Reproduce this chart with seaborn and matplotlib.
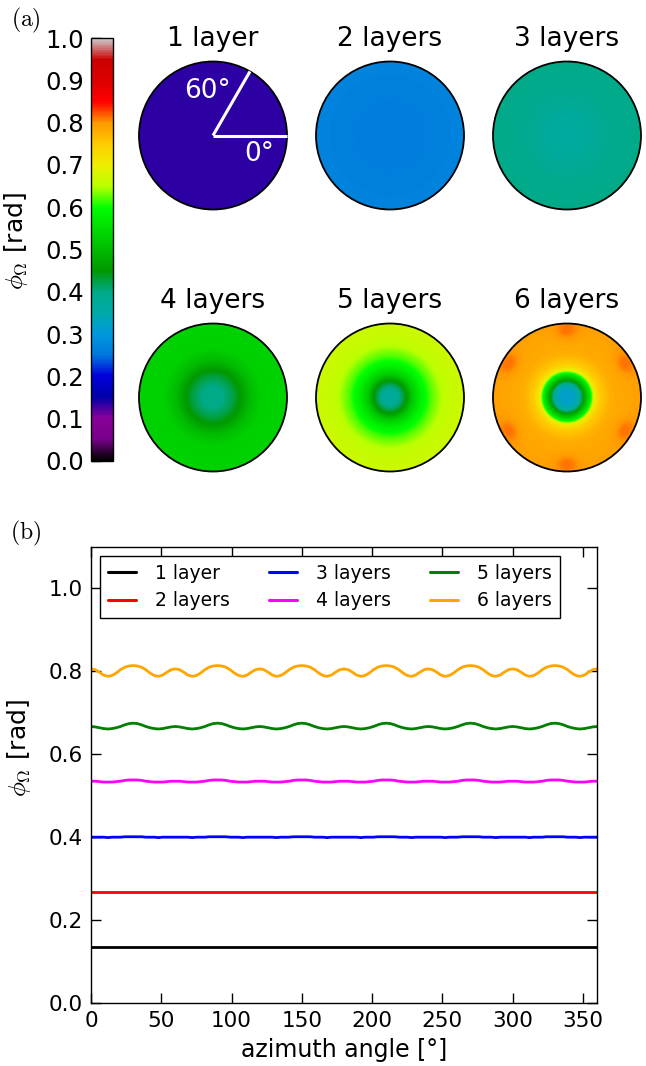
import numpy as np
import pandas as pd
import matplotlib
matplotlib.use("Agg")
import matplotlib.pyplot as plt
import seaborn as sns
from matplotlib.patches import Circle
from matplotlib.cm import ScalarMappable
from matplotlib.colors import Normalize

# ---------------------------------------------------------------- data
layer_names = ["1 layer", "2 layers", "3 layers", "4 layers", "5 layers", "6 layers"]
line_colors = ["black", "red", "blue", "magenta", "green", "orange"]

# azimuthal profiles of the accumulated phase (rad) on the disc rim
angle_flat = [0, 30, 60, 90, 120, 150, 180, 210, 240, 270, 300, 330, 360]
phi_1 = [0.135, 0.135, 0.135, 0.135, 0.135, 0.135, 0.135, 0.135, 0.135, 0.135, 0.135, 0.135, 0.135]
phi_2 = [0.267, 0.267, 0.267, 0.267, 0.267, 0.267, 0.267, 0.267, 0.267, 0.267, 0.267, 0.267, 0.267]

angle_fine = list(range(0, 361, 3))
phi_3 = [
    0.400, 0.400, 0.400, 0.400, 0.399, 0.400, 0.400, 0.400, 0.401, 0.401, 0.401, 0.401, 0.401, 0.400, 0.400, 0.400, 0.399, 0.400, 0.400, 0.400,
    0.400, 0.400, 0.400, 0.400, 0.399, 0.400, 0.400, 0.400, 0.401, 0.401, 0.401, 0.401, 0.401, 0.400, 0.400, 0.400, 0.399, 0.400, 0.400, 0.400,
    0.400, 0.400, 0.400, 0.400, 0.399, 0.400, 0.400, 0.400, 0.401, 0.401, 0.401, 0.401, 0.401, 0.400, 0.400, 0.400, 0.399, 0.400, 0.400, 0.400,
    0.400, 0.400, 0.400, 0.400, 0.399, 0.400, 0.400, 0.400, 0.401, 0.401, 0.401, 0.401, 0.401, 0.400, 0.400, 0.400, 0.399, 0.400, 0.400, 0.400,
    0.400, 0.400, 0.400, 0.400, 0.399, 0.400, 0.400, 0.400, 0.401, 0.401, 0.401, 0.401, 0.401, 0.400, 0.400, 0.400, 0.399, 0.400, 0.400, 0.400,
    0.400, 0.400, 0.400, 0.400, 0.399, 0.400, 0.400, 0.400, 0.401, 0.401, 0.401, 0.401, 0.401, 0.400, 0.400, 0.400, 0.399, 0.400, 0.400, 0.400,
    0.400,
]
phi_4 = [
    0.535, 0.535, 0.534, 0.533, 0.533, 0.533, 0.534, 0.535, 0.537, 0.538, 0.538, 0.538, 0.537, 0.535, 0.534, 0.533, 0.533, 0.533, 0.534, 0.535,
    0.535, 0.535, 0.534, 0.533, 0.533, 0.533, 0.534, 0.535, 0.537, 0.538, 0.538, 0.538, 0.537, 0.535, 0.534, 0.533, 0.533, 0.533, 0.534, 0.535,
    0.535, 0.535, 0.534, 0.533, 0.533, 0.533, 0.534, 0.535, 0.537, 0.538, 0.538, 0.538, 0.537, 0.535, 0.534, 0.533, 0.533, 0.533, 0.534, 0.535,
    0.535, 0.535, 0.534, 0.533, 0.533, 0.533, 0.534, 0.535, 0.537, 0.538, 0.538, 0.538, 0.537, 0.535, 0.534, 0.533, 0.533, 0.533, 0.534, 0.535,
    0.535, 0.535, 0.534, 0.533, 0.533, 0.533, 0.534, 0.535, 0.537, 0.538, 0.538, 0.538, 0.537, 0.535, 0.534, 0.533, 0.533, 0.533, 0.534, 0.535,
    0.535, 0.535, 0.534, 0.533, 0.533, 0.533, 0.534, 0.535, 0.537, 0.538, 0.538, 0.538, 0.537, 0.535, 0.534, 0.533, 0.533, 0.533, 0.534, 0.535,
    0.535,
]
phi_5 = [
    0.667, 0.666, 0.664, 0.662, 0.661, 0.662, 0.664, 0.667, 0.671, 0.674, 0.675, 0.674, 0.671, 0.667, 0.664, 0.662, 0.661, 0.662, 0.664, 0.666,
    0.667, 0.666, 0.664, 0.662, 0.661, 0.662, 0.664, 0.667, 0.671, 0.674, 0.675, 0.674, 0.671, 0.667, 0.664, 0.662, 0.661, 0.662, 0.664, 0.666,
    0.667, 0.666, 0.664, 0.662, 0.661, 0.662, 0.664, 0.667, 0.671, 0.674, 0.675, 0.674, 0.671, 0.667, 0.664, 0.662, 0.661, 0.662, 0.664, 0.666,
    0.667, 0.666, 0.664, 0.662, 0.661, 0.662, 0.664, 0.667, 0.671, 0.674, 0.675, 0.674, 0.671, 0.667, 0.664, 0.662, 0.661, 0.662, 0.664, 0.666,
    0.667, 0.666, 0.664, 0.662, 0.661, 0.662, 0.664, 0.667, 0.671, 0.674, 0.675, 0.674, 0.671, 0.667, 0.664, 0.662, 0.661, 0.662, 0.664, 0.666,
    0.667, 0.666, 0.664, 0.662, 0.661, 0.662, 0.664, 0.667, 0.671, 0.674, 0.675, 0.674, 0.671, 0.667, 0.664, 0.662, 0.661, 0.662, 0.664, 0.666,
    0.667,
]
phi_6 = [
    0.806, 0.804, 0.798, 0.791, 0.788, 0.790, 0.796, 0.804, 0.810, 0.813, 0.814, 0.813, 0.810, 0.804, 0.796, 0.790, 0.788, 0.791, 0.798, 0.804,
    0.806, 0.804, 0.798, 0.791, 0.788, 0.790, 0.796, 0.804, 0.810, 0.813, 0.814, 0.813, 0.810, 0.804, 0.796, 0.790, 0.788, 0.791, 0.798, 0.804,
    0.806, 0.804, 0.798, 0.791, 0.788, 0.790, 0.796, 0.804, 0.810, 0.813, 0.814, 0.813, 0.810, 0.804, 0.796, 0.790, 0.788, 0.791, 0.798, 0.804,
    0.806, 0.804, 0.798, 0.791, 0.788, 0.790, 0.796, 0.804, 0.810, 0.813, 0.814, 0.813, 0.810, 0.804, 0.796, 0.790, 0.788, 0.791, 0.798, 0.804,
    0.806, 0.804, 0.798, 0.791, 0.788, 0.790, 0.796, 0.804, 0.810, 0.813, 0.814, 0.813, 0.810, 0.804, 0.796, 0.790, 0.788, 0.791, 0.798, 0.804,
    0.806, 0.804, 0.798, 0.791, 0.788, 0.790, 0.796, 0.804, 0.810, 0.813, 0.814, 0.813, 0.810, 0.804, 0.796, 0.790, 0.788, 0.791, 0.798, 0.804,
    0.806,
]

# radial phase profiles across each disc (radius as fraction of disc radius)
radius_1 = [0.0, 1.0]
profile_1 = [0.135, 0.135]
radius_2 = [0.0, 0.3, 0.6, 1.0]
profile_2 = [0.258, 0.259, 0.264, 0.267]
radius_3 = [0.0, 0.3, 0.6, 1.0]
profile_3 = [0.365, 0.372, 0.390, 0.400]
radius_4 = [0.0, 0.15, 0.27, 0.38, 0.50, 0.65, 1.0]
profile_4 = [0.400, 0.402, 0.425, 0.455, 0.500, 0.528, 0.535]
radius_5 = [0.0, 0.08, 0.15, 0.22, 0.30, 0.42, 0.55, 0.70, 0.85, 1.0]
profile_5 = [0.370, 0.375, 0.410, 0.450, 0.520, 0.580, 0.620, 0.650, 0.662, 0.665]
radius_6 = [0.0, 0.10, 0.17, 0.22, 0.28, 0.33, 0.37, 0.45, 0.60, 1.0]
profile_6 = [0.320, 0.325, 0.370, 0.450, 0.530, 0.600, 0.700, 0.750, 0.780, 0.792]

# darker spots near the rim of the 6-layer disc (peak phase matches the rim maxima)
spot_angles_6 = [30, 90, 150, 210, 270, 330]
spot_radius_6 = 0.90
spot_peak_6 = 0.815

disc_radii = [radius_1, radius_2, radius_3, radius_4, radius_5, radius_6]
disc_profiles = [profile_1, profile_2, profile_3, profile_4, profile_5, profile_6]
cbar_ticks = [0.0, 0.1, 0.2, 0.3, 0.4, 0.5, 0.6, 0.7, 0.8, 0.9, 1.0]
x_ticks = [0, 50, 100, 150, 200, 250, 300, 350]
y_ticks = [0.0, 0.2, 0.4, 0.6, 0.8, 1.0]

# ---------------------------------------------------------------- style
sns.set_style("ticks")
plt.rcParams.update({
    "font.family": ["DejaVu Sans"],
    "mathtext.fontset": "cm",
    "text.color": "black",
    "axes.labelcolor": "black",
    "axes.edgecolor": "black",
    "xtick.color": "black",
    "ytick.color": "black",
    "axes.linewidth": 1.0,
})

W, H = 646, 1066
fig = plt.figure(figsize=(W / 100, H / 100), dpi=100)


def px_axes(x0, y0, x1, y1):
    return fig.add_axes([x0 / W, 1 - y1 / H, (x1 - x0) / W, (y1 - y0) / H])


cmap = plt.get_cmap("nipy_spectral")
norm = Normalize(vmin=0.0, vmax=1.0)

# ---------------------------------------------------------------- (a) discs
fig.text(11 / W, 1 - 20 / H, r"$\mathrm{(a)}$", fontsize=17, ha="left", va="center")

cax = px_axes(91, 38, 113, 461)
cb = fig.colorbar(ScalarMappable(norm=norm, cmap=cmap), cax=cax)
cb.set_ticks(cbar_ticks)
cb.set_ticklabels([f"{t:.1f}" for t in cbar_ticks])
cax.yaxis.set_ticks_position("left")
cax.yaxis.set_label_position("left")
cax.tick_params(axis="y", direction="in", length=7, width=1, labelsize=17.5, pad=5,
                left=True, right=False)
cb.outline.set_edgecolor("black")
cb.outline.set_linewidth(1.0)
cax.set_ylabel(r"$\phi_\Omega$ [rad]", fontsize=18, labelpad=5)
cax.yaxis.set_label_coords(-2.75, 0.52)

centers = [(213, 135.5), (390, 135.5), (567, 135.5),
           (213, 397.5), (390, 397.5), (567, 397.5)]
baselines = [46, 46, 46, 308, 308, 308]
R_PX = 74

n = 361
g = np.linspace(-1, 1, n)
X, Y = np.meshgrid(g, g)
RR = np.hypot(X, Y)
TT = np.degrees(np.arctan2(Y, X)) % 360

for k, ((cx, cy), name) in enumerate(zip(centers, layer_names)):
    ax = px_axes(cx - R_PX - 3, cy - R_PX - 3, cx + R_PX + 3, cy + R_PX + 3)
    lim = (R_PX + 3) / R_PX
    field = np.interp(RR, disc_radii[k], disc_profiles[k])
    if k == 5:
        rim = disc_profiles[k][-1]
        for a in spot_angles_6:
            d = (TT - a + 180) % 360 - 180
            field = field + (spot_peak_6 - rim) * np.exp(-(d / 11.0) ** 2 - ((RR - spot_radius_6) / 0.13) ** 2)
    im = ax.imshow(field, cmap=cmap, norm=norm, origin="lower",
                   extent=(-1, 1, -1, 1), interpolation="bilinear")
    clip = Circle((0, 0), 1.0, transform=ax.transData)
    im.set_clip_path(clip)
    ax.add_patch(Circle((0, 0), 1.0, fill=False, edgecolor="black", linewidth=1.3))
    ax.set_xlim(-lim, lim)
    ax.set_ylim(-lim, lim)
    ax.set_axis_off()
    fig.text(cx / W, 1 - baselines[k] / H, name, fontsize=19, ha="center", va="baseline")
    if k == 0:
        ax.plot([0, 1.0], [0, 0], color="white", lw=2.2, solid_capstyle="butt")
        ax.plot([0, np.cos(np.radians(60))], [0, np.sin(np.radians(60))],
                color="white", lw=2.2, solid_capstyle="butt")
        ax.text(-0.08, 0.60, "60°", color="white", fontsize=19, ha="center", va="center")
        ax.text(0.62, -0.25, "0°", color="white", fontsize=19, ha="center", va="center")

# ---------------------------------------------------------------- (b) lines
fig.text(10 / W, 1 - 533 / H, r"$\mathrm{(b)}$", fontsize=17, ha="left", va="center")

frames = []
for name, ang, vals in zip(layer_names,
                           [angle_flat, angle_flat, angle_fine, angle_fine, angle_fine, angle_fine],
                           [phi_1, phi_2, phi_3, phi_4, phi_5, phi_6]):
    frames.append(pd.DataFrame({"angle": ang, "phi": vals, "layers": name}))
df = pd.concat(frames, ignore_index=True)

axb = px_axes(91, 547, 597, 1003)
sns.lineplot(data=df, x="angle", y="phi", hue="layers", hue_order=layer_names,
             palette=line_colors, linewidth=2.0, estimator=None, sort=False, ax=axb)
axb.set_xlim(0, 360)
axb.set_ylim(0, 1.1)
axb.set_xticks(x_ticks)
axb.set_yticks(y_ticks)
axb.set_yticklabels([f"{t:.1f}" for t in y_ticks])
axb.tick_params(direction="in", length=7, width=1, labelsize=15.5, top=True, right=True, pad=6)
axb.set_xlabel("azimuth angle [°]", fontsize=17, labelpad=5)
axb.set_ylabel(r"$\phi_\Omega$ [rad]", fontsize=18)
axb.yaxis.set_label_coords(-0.115, 0.56)

sns.move_legend(axb, "upper left", ncol=3, title=None, frameon=True, fontsize=13.5,
                handlelength=1.5, handletextpad=1.0, columnspacing=2.1, labelspacing=0.45,
                borderaxespad=0.5, fancybox=False, edgecolor="black", framealpha=1.0)
leg = axb.get_legend()
leg.get_frame().set_linewidth(1.0)
for h in leg.get_lines():
    h.set_linewidth(2.2)

fig.savefig("out.png", dpi=100)
